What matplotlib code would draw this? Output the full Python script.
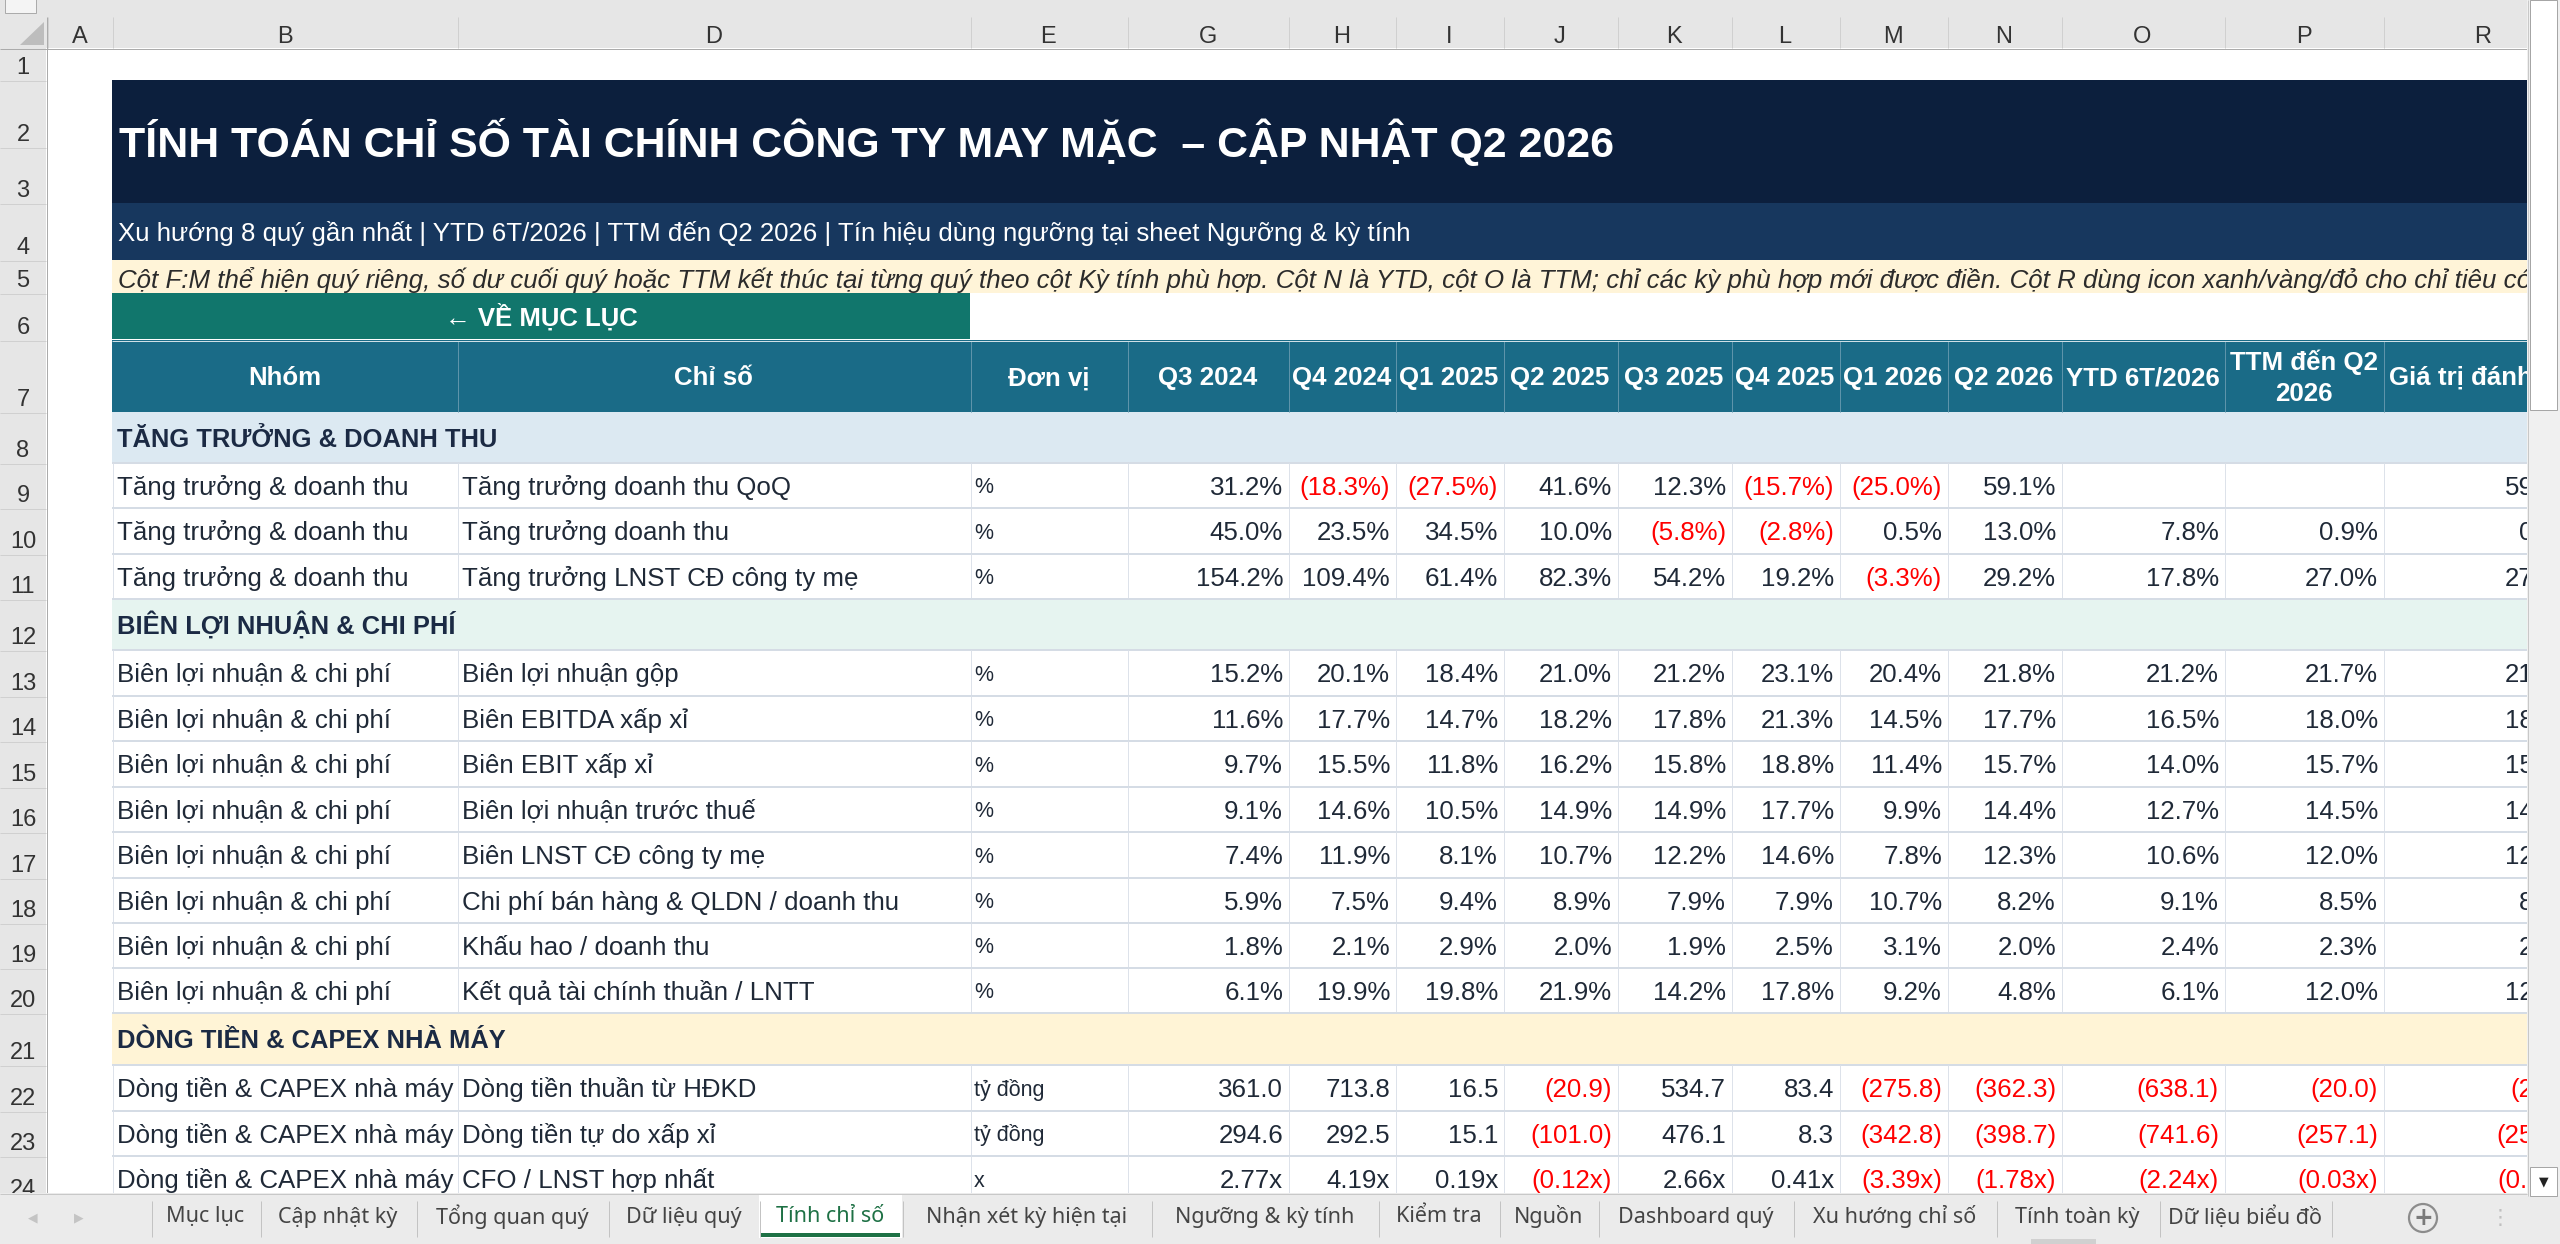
import matplotlib
matplotlib.use("Agg")
import matplotlib.pyplot as plt
from matplotlib.patches import Rectangle, Circle

# canvas in pixels
W, H = 2560, 1244
SHEET_R, SHEET_B = 2527, 1193
FONT = ["Liberation Sans", "DejaVu Sans"]
UI_FONT = ["Noto Sans", "DejaVu Sans"]

# ---- data ----
col_letters = ["A", "B", "D", "E", "G", "H", "I", "J", "K", "L", "M", "N", "O", "P", "R"]
periods = ["Q3 2024", "Q4 2024", "Q1 2025", "Q2 2025", "Q3 2025", "Q4 2025",
           "Q1 2026", "Q2 2026", "YTD 6T/2026", "TTM đến Q2\n2026"]
header_labels = ["Nhóm", "Chỉ số", "Đơn vị"] + periods + ["Giá trị đánh giá"]

title = "TÍNH TOÁN CHỈ SỐ TÀI CHÍNH CÔNG TY MAY MẶC  – CẬP NHẬT Q2 2026"
subtitle = "Xu hướng 8 quý gần nhất | YTD 6T/2026 | TTM đến Q2 2026 | Tín hiệu dùng ngưỡng tại sheet Ngưỡng & kỳ tính"
note = ("Cột F:M thể hiện quý riêng, số dư cuối quý hoặc TTM kết thúc tại từng quý theo cột Kỳ tính phù hợp. "
        "Cột N là YTD, cột O là TTM; chỉ các kỳ phù hợp mới được điền. "
        "Cột R dùng icon xanh/vàng/đỏ cho chỉ tiêu có ngưỡng.")
back_label = "← VỀ MỤC LỤC"

section_titles = ["TĂNG TRƯỞNG & DOANH THU", "BIÊN LỢI NHUẬN & CHI PHÍ", "DÒNG TIỀN & CAPEX NHÀ MÁY"]
groups = ["Tăng trưởng & doanh thu", "Biên lợi nhuận & chi phí", "Dòng tiền & CAPEX nhà máy"]

metrics_growth = ["Tăng trưởng doanh thu QoQ", "Tăng trưởng doanh thu", "Tăng trưởng LNST CĐ công ty mẹ"]
units_growth = ["%", "%", "%"]
values_growth = [
    [31.2, -18.3, -27.5, 41.6, 12.3, -15.7, -25.0, 59.1, None, None],
    [45.0, 23.5, 34.5, 10.0, -5.8, -2.8, 0.5, 13.0, 7.8, 0.9],
    [154.2, 109.4, 61.4, 82.3, 54.2, 19.2, -3.3, 29.2, 17.8, 27.0],
]
rating_growth = [59.1, 0.9, 27.0]

metrics_margin = ["Biên lợi nhuận gộp", "Biên EBITDA xấp xỉ", "Biên EBIT xấp xỉ",
                  "Biên lợi nhuận trước thuế", "Biên LNST CĐ công ty mẹ",
                  "Chi phí bán hàng & QLDN / doanh thu", "Khấu hao / doanh thu",
                  "Kết quả tài chính thuần / LNTT"]
units_margin = ["%"] * 8
values_margin = [
    [15.2, 20.1, 18.4, 21.0, 21.2, 23.1, 20.4, 21.8, 21.2, 21.7],
    [11.6, 17.7, 14.7, 18.2, 17.8, 21.3, 14.5, 17.7, 16.5, 18.0],
    [9.7, 15.5, 11.8, 16.2, 15.8, 18.8, 11.4, 15.7, 14.0, 15.7],
    [9.1, 14.6, 10.5, 14.9, 14.9, 17.7, 9.9, 14.4, 12.7, 14.5],
    [7.4, 11.9, 8.1, 10.7, 12.2, 14.6, 7.8, 12.3, 10.6, 12.0],
    [5.9, 7.5, 9.4, 8.9, 7.9, 7.9, 10.7, 8.2, 9.1, 8.5],
    [1.8, 2.1, 2.9, 2.0, 1.9, 2.5, 3.1, 2.0, 2.4, 2.3],
    [6.1, 19.9, 19.8, 21.9, 14.2, 17.8, 9.2, 4.8, 6.1, 12.0],
]
rating_margin = [21.7, 18.0, 15.7, 14.5, 12.0, 8.5, 2.3, 12.0]

metrics_cash = ["Dòng tiền thuần từ HĐKD", "Dòng tiền tự do xấp xỉ", "CFO / LNST hợp nhất"]
units_cash = ["tỷ đồng", "tỷ đồng", "x"]
values_cash = [
    [361.0, 713.8, 16.5, -20.9, 534.7, 83.4, -275.8, -362.3, -638.1, -20.0],
    [294.6, 292.5, 15.1, -101.0, 476.1, 8.3, -342.8, -398.7, -741.6, -257.1],
    [2.77, 4.19, 0.19, -0.12, 2.66, 0.41, -3.39, -1.78, -2.24, -0.03],
]
rating_cash = [-20.0, -257.1, -0.03]

tab_names = ["Mục lục", "Cập nhật kỳ", "Tổng quan quý", "Dữ liệu quý", "Tính chỉ số",
             "Nhận xét kỳ hiện tại", "Ngưỡng & kỳ tính", "Kiểm tra", "Nguồn",
             "Dashboard quý", "Xu hướng chỉ số", "Tính toàn kỳ", "Dữ liệu biểu đồ"]
active_tab = "Tính chỉ số"

# ---- layout (pixels) ----
col_edges = [47, 112, 457, 970, 1127, 1288, 1395, 1503, 1617, 1731, 1839, 1947, 2061, 2224, 2383, 2583]
row_tops = [48, 80, 147, 203, 260, 293, 340, 412, 463, 508, 554, 599, 650, 696,
            741, 787, 832, 878, 923, 968, 1013, 1065, 1111, 1156, 1202]
tab_edges = [151, 260, 416, 608, 759, 902, 1151, 1378, 1499, 1598, 1793, 1996, 2159, 2331]

C_TITLE = "#0C1F3D"
C_SUB = "#17375E"
C_NOTE = "#FFF4D8"
C_BTN = "#11766C"
C_HEAD = "#1A6B87"
C_HEAD_SEP = "#5E94AA"
section_fills = ["#DCE9F2", "#E6F4F0", "#FFF4D6"]
C_TEXT = "#1F2937"
C_SECTION_TEXT = "#1B2A44"
C_NEG = "#FF0000"
C_GRID_H = "#D5DCE5"
C_GRID_V = "#DDE2EA"
C_CHROME = "#E6E6E6"

BODY = 18.6


def em(size):
    return size / 0.72


def put(ax, x, y_mid, s, size, color, weight="normal", ha="left", style="normal", family=FONT):
    # baseline so that capitals sit centred on y_mid
    ax.text(x, y_mid + 0.358 * em(size), s, fontsize=size, color=color, fontweight=weight,
            fontstyle=style, ha=ha, va="baseline", family=family, clip_on=True)


def box(ax, x0, y0, x1, y1, fc, ec="none", lw=0, z=1):
    ax.add_patch(Rectangle((x0, y0), x1 - x0, y1 - y0, facecolor=fc, edgecolor=ec,
                           linewidth=lw, zorder=z))


def hline(ax, y, x0, x1, color, px=1, z=3):
    ax.plot([x0, x1], [y, y], color=color, lw=px * 0.72, solid_capstyle="butt", zorder=z)


def vline(ax, x, y0, y1, color, px=1, z=3):
    ax.plot([x, x], [y0, y1], color=color, lw=px * 0.72, solid_capstyle="butt", zorder=z)


def fmt(v, unit):
    if v is None:
        return "", C_TEXT
    if unit == "%":
        s = f"{abs(v):.1f}%"
    elif unit == "x":
        s = f"{abs(v):.2f}x"
    else:
        s = f"{abs(v):.1f}"
    if v < 0:
        return f"({s})", C_NEG
    return s, C_TEXT


def row_span(r):
    return row_tops[r - 1], row_tops[r]


fig = plt.figure(figsize=(W / 100, H / 100), dpi=100)

# ---- window chrome (scrollbar, tab bar) ----
ui = fig.add_axes([0, 0, 1, 1])
ui.set_xlim(0, W)
ui.set_ylim(H, 0)
ui.axis("off")
box(ui, 0, 0, W, H, "#EBEBEB", z=0)
box(ui, SHEET_R, 0, W, SHEET_B + 3, "#F0F0F0")
vline(ui, SHEET_R + 0.5, 0, SHEET_B + 3, "#C8C8C8")
box(ui, SHEET_R + 3, 0, W - 3, 410, "white", ec="#A6A6A6", lw=0.72)
box(ui, SHEET_R + 3, 1167, W - 3, 1196, "white", ec="#A6A6A6", lw=0.72)
ui.text((SHEET_R + W) / 2, 1182, "▼", fontsize=9, color="#222222", ha="center", va="center",
        family=["DejaVu Sans"])

hline(ui, SHEET_B + 0.5, 0, SHEET_R, "#C8C8C8")
ui.text(33, 1218, "◀", fontsize=9, color="#C4C4C4", ha="center", va="center", family=["DejaVu Sans"])
ui.text(79, 1218, "▶", fontsize=9, color="#C4C4C4", ha="center", va="center", family=["DejaVu Sans"])
for i, name in enumerate(tab_names):
    x0, x1 = tab_edges[i], tab_edges[i + 1]
    if name == active_tab:
        box(ui, x0, SHEET_B + 1, x1, 1238, "white", z=2)
        box(ui, x0 + 2, 1233, x1 - 2, 1237, "#1E7145", z=3)
        ui.text((x0 + x1) / 2, 1217, name, fontsize=15.5, color="#1E7145", fontweight="bold",
                ha="center", va="center", family=UI_FONT, zorder=4)
    else:
        ui.text((x0 + x1) / 2, 1217, name, fontsize=15.5, color="#444444",
                ha="center", va="center", family=UI_FONT, zorder=4)
for x in tab_edges:
    vline(ui, x + 0.5, 1201, 1237, "#C3C3C3", z=5)
ui.add_patch(Circle((2423, 1218), 14, facecolor="none", edgecolor="#8C8C8C", lw=1.6, zorder=4))
ui.text(2423, 1218, "+", fontsize=17, color="#7A7A7A", ha="center", va="center",
        family=["DejaVu Sans"], fontweight="bold", zorder=5)
ui.text(2500, 1218, "⋮", fontsize=15, color="#C0C0C0", ha="center", va="center", family=["DejaVu Sans"])
box(ui, 2031, 1239, 2096, 1244, "#D0D0D0")

# ---- sheet ----
ax = fig.add_axes([0, (H - SHEET_B) / H, SHEET_R / W, SHEET_B / H])
ax.set_xlim(0, SHEET_R)
ax.set_ylim(SHEET_B, 0)
ax.axis("off")
box(ax, 0, 0, SHEET_R, SHEET_B, "white", z=0)

# column / row headers
box(ax, 0, 0, SHEET_R, 48, C_CHROME)
box(ax, 0, 48, 46, SHEET_B, C_CHROME)
box(ax, 5, -1, 36, 13, "#F4F4F4", ec="#ABABAB", lw=0.72)
ax.add_patch(plt.Polygon([[44, 22], [44, 45], [20, 45]], closed=True, facecolor="#BDBDBD",
                         edgecolor="none", zorder=2))
for i, letter in enumerate(col_letters):
    x0, x1 = col_edges[i], col_edges[i + 1]
    ax.text((x0 + x1) / 2, 43, letter, fontsize=17, color="#333333", ha="center", va="baseline",
            family=FONT, clip_on=True)
    vline(ax, x0 + 0.5, 17, 48, "#D0D0D0")
vline(ax, 46.5, 17, SHEET_B, "#ABABAB")
hline(ax, 48.5, 0, SHEET_R, "#ABABAB")
for r in range(1, len(row_tops)):
    y0, y1 = row_span(r)
    ax.text(23, y1 - 6, str(r), fontsize=17, color="#333333", ha="center", va="baseline",
            family=FONT, clip_on=True)
    hline(ax, y1 + 0.5, 0, 46, "#D0D0D0")

left, right = col_edges[1], SHEET_R

# title rows
y0, _ = row_span(2)
_, y1 = row_span(3)
box(ax, left, y0, right, y1, C_TITLE)
put(ax, left + 7, (y0 + y1) / 2, title, 30.9, "white", weight="bold")
y0, y1 = row_span(4)
box(ax, left, y0, right, y1, C_SUB)
put(ax, left + 6, (y0 + y1) / 2, subtitle, BODY, "white")
y0, y1 = row_span(5)
box(ax, left, y0, right, y1, C_NOTE)
put(ax, left + 6, (y0 + y1) / 2 + 2, note, BODY, "#2B2B2B", style="italic")
y0, y1 = row_span(6)
box(ax, left, y0, col_edges[3], y1 - 1, C_BTN)
put(ax, (left + col_edges[3]) / 2, (y0 + y1) / 2, back_label, 18.5, "white", weight="bold", ha="center")

# table header
y0, y1 = row_span(7)
box(ax, left, y0, right, y1, C_HEAD)
hline(ax, y0 + 0.5, left, right, "#CFE0E6", z=4)
for i, lab in enumerate(header_labels):
    x0, x1 = col_edges[i + 1], col_edges[i + 2]
    lines = lab.split("\n")
    mid = (y0 + y1) / 2
    for k, line in enumerate(lines):
        yy = mid + (k - (len(lines) - 1) / 2) * 31
        put(ax, (x0 + x1) / 2, yy, line, BODY, "white", weight="bold", ha="center")
    if i > 0:
        vline(ax, x0 + 0.5, y0 + 1, y1, C_HEAD_SEP)

# body
blocks = [
    (metrics_growth, units_growth, values_growth, rating_growth),
    (metrics_margin, units_margin, values_margin, rating_margin),
    (metrics_cash, units_cash, values_cash, rating_cash),
]
r = 8
for g, (metrics, units, values, ratings) in enumerate(blocks):
    y0, y1 = row_span(r)
    box(ax, left, y0, right, y1, section_fills[g])
    hline(ax, y1, left, right, C_GRID_H, px=2)
    put(ax, left + 5, (y0 + y1) / 2, section_titles[g], 18.4, C_SECTION_TEXT, weight="bold")
    r += 1
    for m, metric in enumerate(metrics):
        y0, y1 = row_span(r)
        mid = (y0 + y1) / 2
        put(ax, col_edges[1] + 5, mid, groups[g], BODY, C_TEXT)
        put(ax, col_edges[2] + 5, mid, metric, BODY, C_TEXT)
        put(ax, col_edges[3] + 4, mid, units[m], 15.5, C_TEXT)
        for j, v in enumerate(values[m]):
            s, c = fmt(v, units[m])
            put(ax, col_edges[j + 5] - 5, mid, s, BODY, c, ha="right")
        s, c = fmt(ratings[m], units[m])
        put(ax, col_edges[15] - 5, mid, s, BODY, c, ha="right")
        for x in col_edges[1:15]:
            vline(ax, x + 0.5, y0, y1, C_GRID_V)
        hline(ax, y1, left, right, C_GRID_H, px=2)
        r += 1

fig.savefig("out.png", dpi=100)
